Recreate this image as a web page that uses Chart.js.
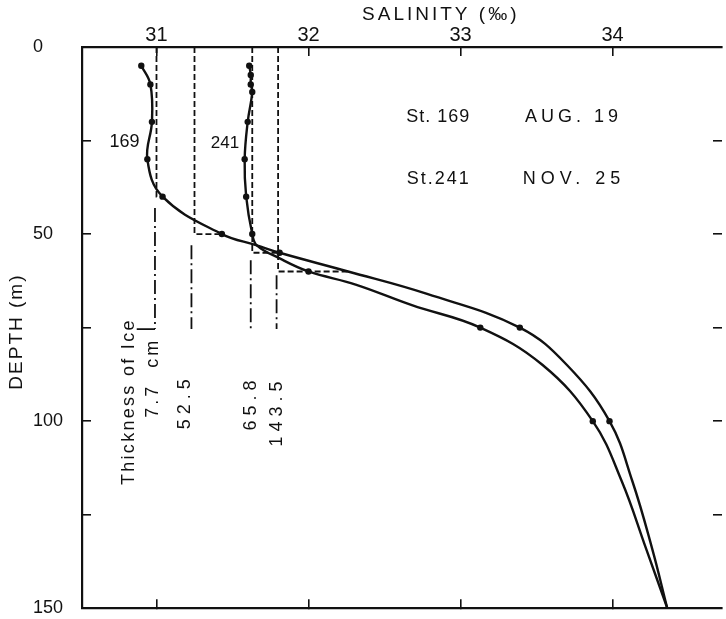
<!DOCTYPE html>
<html>
<head>
<meta charset="utf-8">
<script src="https://cdn.jsdelivr.net/npm/chart.js@4.4.0/dist/chart.umd.min.js"></script>
<style>
  html, body { margin: 0; padding: 0; background: #fff; }
  canvas { display: block; }
</style>
</head>
<body>
<canvas id="profile" width="726" height="619"></canvas>
<script>
// Salinity vs depth, St.169 (Aug 19) and St.241 (Nov 25)

// St. 169 - traced profile (depth m, salinity permil)
const depth169 = [5, 10, 20, 30, 40, 50, 53, 55, 60, 66, 75, 85, 100, 116, 134, 150];
const sal169   = [30.90, 30.96, 30.97, 30.94, 31.04, 31.43, 31.66, 31.81, 32.26, 32.78, 33.39, 33.70, 33.98, 34.13, 34.26, 34.36];
const samples169 = [5, 10, 20, 30, 40, 50, 55, 75, 100];

// St. 241
const depth241 = [5, 7.5, 10, 12, 20, 30, 40, 50, 53, 56.5, 60, 63.5, 69, 75, 85, 100, 116, 134, 150];
const sal241   = [31.61, 31.62, 31.62, 31.63, 31.60, 31.58, 31.59, 31.63, 31.66, 31.81, 32.00, 32.31, 32.68, 33.13, 33.54, 33.87, 34.06, 34.22, 34.36];
const samples241 = [5, 7.5, 10, 12, 20, 30, 40, 50, 60, 75, 100];

// mixed layer for each ice thickness (vertical dashed lines, then across to St.169 profile)
const mixSal   = [31.00, 31.25, 31.63, 31.80];
const mixDepth = [40, 50, 55, 60];

// ice thickness lines (dash-dot) and their labels
const iceLabels = ['7.7  cm', '52.5', '65.8', '143.5'];
const iceSal    = [30.99, 31.23, 31.62, 31.79];
const iceTop    = [43, 53, 57, 61];
const iceBottom = 75.4;

const salTicks = [31, 32, 33, 34];
const salMin = 30.51, salMax = 34.72;
const depthMax = 150;

const ink = '#111';
const family = "'Liberation Sans', Arial, sans-serif";
Chart.defaults.font.family = family;
Chart.defaults.color = ink;

function profilePoints(depths, sals) {
    return depths.map((d, i) => ({ x: sals[i], y: d }));
}
function samplePoints(samples, depths, sals) {
    return samples.map(d => ({ x: sals[depths.indexOf(d)], y: d }));
}
function salAt(d) {
    return sal169[depth169.indexOf(d)];
}

const datasets = [];

[[depth169, sal169, samples169], [depth241, sal241, samples241]].forEach(([dd, ss, smp]) => {
    datasets.push({
        data: profilePoints(dd, ss),
        showLine: true, tension: 0.4,
        borderColor: ink, borderWidth: 2.4,
        pointRadius: 0
    });
    datasets.push({
        data: samplePoints(smp, dd, ss),
        showLine: false,
        pointRadius: 3.2, pointBackgroundColor: ink, pointBorderColor: ink, pointBorderWidth: 0
    });
});

mixSal.forEach((s, i) => {
    datasets.push({
        data: [{ x: s, y: 0 }, { x: s, y: mixDepth[i] }, { x: salAt(mixDepth[i]), y: mixDepth[i] }],
        showLine: true, tension: 0,
        borderColor: ink, borderWidth: 1.8, borderDash: [6, 3],
        pointRadius: 0
    });
});

iceSal.forEach((s, i) => {
    datasets.push({
        data: [{ x: s, y: iceTop[i] }, { x: s, y: iceBottom }],
        showLine: true, tension: 0,
        borderColor: ink, borderWidth: 1.8, borderDash: [14, 4, 2, 4],
        pointRadius: 0
    });
});

// leader from the "Thickness of Ice" label to the first line
datasets.push({
    data: [{ x: 30.87, y: iceBottom }, { x: iceSal[0], y: iceBottom }],
    showLine: true, borderColor: ink, borderWidth: 1.6, pointRadius: 0
});

const notes = [
    { text: 'St. 169', sal: 32.85, depth: 18.6, size: 18, spacing: 1 },
    { text: 'AUG. 19', sal: 33.73, depth: 18.6, size: 18, spacing: 4 },
    { text: 'St.241', sal: 32.85, depth: 35.3, size: 18, spacing: 2 },
    { text: 'NOV. 25', sal: 33.73, depth: 35.3, size: 18, spacing: 5 },
    { text: '169', sal: 30.79, depth: 25.4, size: 18, spacing: 0 },
    { text: '241', sal: 31.45, depth: 25.7, size: 17, spacing: 0 },
    { text: 'Thickness of Ice', sal: 30.82, depth: 95.1, size: 18, spacing: 2.3, rotate: true }
];
const labelDepth = [88.8, 95.5, 95.8, 98.1];
const labelSal   = [30.98, 31.19, 31.62, 31.79];
iceLabels.forEach((t, i) => {
    notes.push({ text: t, sal: labelSal[i], depth: labelDepth[i], size: 18, spacing: i === 0 ? 3 : 5, rotate: true });
});

const notesPlugin = {
    id: 'notes',
    afterDraw(chart) {
        const { ctx, chartArea } = chart;
        const xs = chart.scales.x, ys = chart.scales.y;
        ctx.save();
        ctx.fillStyle = ink;
        ctx.textAlign = 'center';
        ctx.textBaseline = 'middle';
        notes.forEach(n => {
            ctx.font = n.size + 'px ' + family;
            ctx.letterSpacing = n.spacing + 'px';
            ctx.save();
            ctx.translate(xs.getPixelForValue(n.sal), ys.getPixelForValue(n.depth));
            if (n.rotate) ctx.rotate(-Math.PI / 2);
            ctx.fillText(n.text, n.spacing / 2, 0);
            ctx.restore();
        });
        // axis titles
        ctx.font = '19px ' + family;
        ctx.letterSpacing = '3px';
        ctx.fillText('SALINITY (‰)', xs.getPixelForValue(32.87), chartArea.top - 32);
        ctx.letterSpacing = '2px';
        ctx.save();
        ctx.translate(chartArea.left - 65, (chartArea.top + chartArea.bottom) / 2 + 4);
        ctx.rotate(-Math.PI / 2);
        ctx.fillText('DEPTH (m)', 0, 0);
        ctx.restore();
        ctx.restore();
    }
};

const tickGrid = { drawOnChartArea: false, drawTicks: true, tickLength: -9, color: ink, lineWidth: 1.6 };
const axisBorder = { display: true, color: ink, width: 2.2 };
const fixTicks = s => { s.ticks = salTicks.map(v => ({ value: v })); };

new Chart(document.getElementById('profile'), {
    type: 'scatter',
    data: { datasets },
    options: {
        responsive: false,
        animation: false,
        devicePixelRatio: 1,
        layout: { padding: { left: 33, right: 0, top: 0, bottom: 0 } },
        plugins: { legend: { display: false }, tooltip: { enabled: false } },
        scales: {
            x: {
                type: 'linear', position: 'top', min: salMin, max: salMax,
                afterBuildTicks: fixTicks,
                afterFit: s => { s.height = 47; },
                ticks: { font: { size: 20 }, padding: 9, color: ink },
                grid: tickGrid, border: axisBorder
            },
            x2: {
                type: 'linear', position: 'bottom', min: salMin, max: salMax,
                afterBuildTicks: fixTicks,
                afterFit: s => { s.height = 4; },
                ticks: { display: false },
                grid: tickGrid, border: axisBorder
            },
            y: {
                type: 'linear', position: 'left', reverse: true, min: 0, max: depthMax,
                afterFit: s => { s.width = 49; },
                ticks: { stepSize: 25, font: { size: 18 }, padding: 0, crossAlign: 'far', color: ink,
                         callback: v => (v % 50 === 0 ? v : '') },
                grid: tickGrid, border: axisBorder
            },
            y2: {
                type: 'linear', position: 'right', reverse: true, min: 0, max: depthMax,
                afterFit: s => { s.width = 0; },
                ticks: { stepSize: 25, display: false },
                grid: tickGrid, border: { display: false }
            }
        }
    },
    plugins: [notesPlugin]
});
</script>
</body>
</html>
